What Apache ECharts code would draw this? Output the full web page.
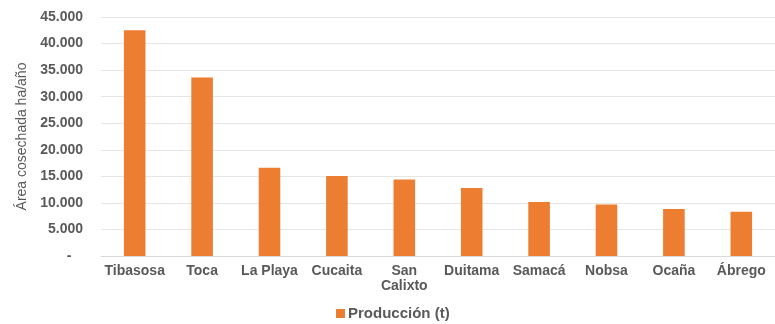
<!DOCTYPE html>
<html>
<head>
<meta charset="utf-8">
<script src="https://cdn.jsdelivr.net/npm/echarts@6/dist/echarts.min.js"></script>
<style>
  html, body { margin: 0; padding: 0; background: #fff; }
  #chart { width: 775px; height: 324px; }
</style>
</head>
<body>
<div id="chart"></div>
<script>
  // municipios y producción
  const municipios = ['Tibasosa', 'Toca', 'La Playa', 'Cucaita', 'San\nCalixto', 'Duitama', 'Samacá', 'Nobsa', 'Ocaña', 'Ábrego'];
  const produccion = [42500, 33600, 16600, 15050, 14400, 12800, 10150, 9700, 8850, 8350];
  const serieNombre = 'Producción (t)';
  const ejeNombre = 'Área cosechada ha/año';

  const chart = echarts.init(document.getElementById('chart'));

  function formatMiles(v) {
    if (v === 0) return '-   ';
    return String(v).replace(/\B(?=(\d{3})+(?!\d))/g, '.');
  }

  chart.setOption({
    animation: false,
    textStyle: { fontFamily: 'Liberation Sans, Arial, sans-serif' },
    grid: {
      left: 101,
      right: -6,
      top: 17,
      bottom: 68
    },
    legend: {
      data: [serieNombre],
      left: 336,
      top: 306,
      padding: 0,
      itemWidth: 9,
      itemHeight: 9,
      icon: 'rect',
      textStyle: { color: '#595959', fontSize: 15, fontWeight: 'bold', padding: [0, 0, 0, -2] }
    },
    xAxis: {
      type: 'category',
      data: municipios,
      axisLine: { lineStyle: { color: '#d9d9d9', width: 1 } },
      axisTick: { show: false },
      axisLabel: {
        color: '#595959',
        fontSize: 14,
        fontWeight: 'bold',
        margin: 8,
        lineHeight: 15,
        interval: 0
      }
    },
    yAxis: {
      type: 'value',
      min: 0,
      max: 45000,
      interval: 5000,
      name: ejeNombre,
      nameLocation: 'middle',
      nameGap: 70,
      nameTextStyle: { color: '#595959', fontSize: 14 },
      axisLine: { show: false },
      axisTick: { show: false },
      splitLine: { lineStyle: { color: '#e6e6e6', width: 1 } },
      axisLabel: {
        color: '#595959',
        fontSize: 14,
        fontWeight: 'bold',
        margin: 18,
        formatter: formatMiles
      }
    },
    series: [{
      name: serieNombre,
      type: 'bar',
      data: produccion,
      barWidth: '32%',
      itemStyle: { color: '#ED7D31' }
    }]
  });
</script>
</body>
</html>
